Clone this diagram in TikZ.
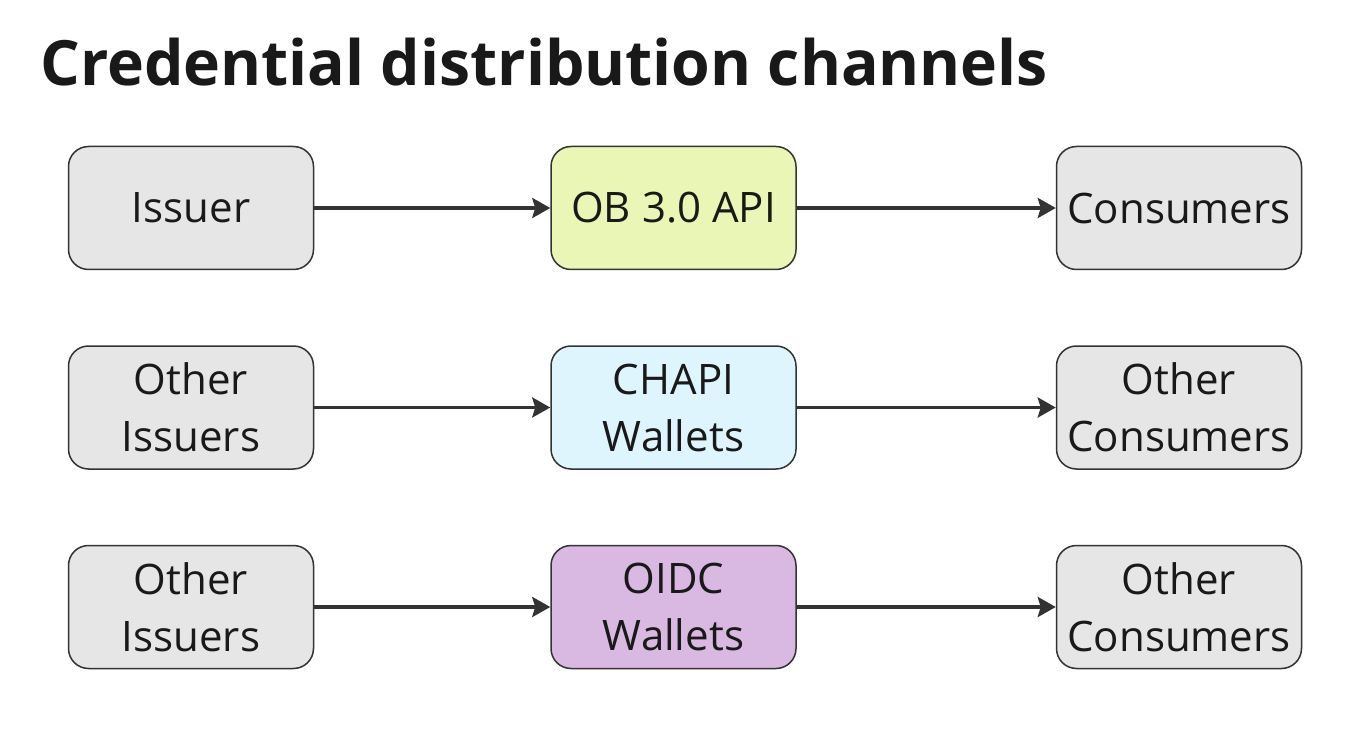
\documentclass[tikz,border=0pt]{standalone}
\usepackage{fontspec}
\setmainfont{Open Sans}
\usepackage{tikz}
\usetikzlibrary{positioning}
\usetikzlibrary{arrows.meta}

\definecolor{boxgray}{HTML}{E6E6E6}
\definecolor{boxgreen}{HTML}{E9F6B5}
\definecolor{boxblue}{HTML}{DFF5FD}
\definecolor{boxpurple}{HTML}{D9B8E2}
\definecolor{linedark}{HTML}{333333}

\tikzset{
  box/.style={draw=linedark, line width=1.5pt, rounded corners=20pt,
    minimum width=245pt, minimum height=123pt, inner sep=0pt,
    align=center, text=black!90, font=\fontsize{42}{57}\selectfont},
  flow/.style={draw=linedark, line width=3.5pt,
    -{Stealth[length=18pt,width=20pt,inset=3pt]}},
}

\begin{document}
\begin{tikzpicture}

        \useasboundingbox (0,0) rectangle (1353pt,-738pt);

        % Title
        \node[anchor=base west, inner sep=0pt, text=black!90,
          font=\bfseries\fontsize{62.5}{75}\selectfont] (title) at (40pt,-86pt)
          {Credential distribution channels};

        % Define nodes
        \node[box, fill=boxgray]                        (1) at (191pt,-208pt) {Issuer};
        \node[box, fill=boxgreen, right=236pt of 1]     (2) {OB 3.0 API};
        \node[box, fill=boxgray, right=259pt of 2]      (3) {Consumers};

        \node[box, fill=boxgray, below=75pt of 1]       (4) {Other\\Issuers};
        \node[box, fill=boxblue, right=236pt of 4]      (5) {CHAPI\\Wallets};
        \node[box, fill=boxgray, right=259pt of 5]      (6) {Other\\Consumers};

        \node[box, fill=boxgray, below=75pt of 4]       (7) {Other\\Issuers};
        \node[box, fill=boxpurple, right=236pt of 7]    (8) {OIDC\\Wallets};
        \node[box, fill=boxgray, right=259pt of 8]      (9) {Other\\Consumers};

        % Connect the nodes
        \draw[flow] (1) -- (2);
        \draw[flow] (2) -- (3);
        \draw[flow] (4) -- (5);
        \draw[flow] (5) -- (6);
        \draw[flow] (7) -- (8);
        \draw[flow] (8) -- (9);
      \end{tikzpicture}
\end{document}
